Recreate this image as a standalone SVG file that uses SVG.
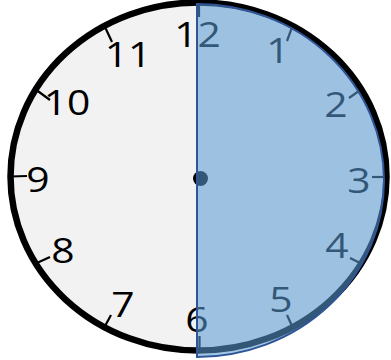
<svg xmlns="http://www.w3.org/2000/svg" width="391" height="360" viewBox="0 0 391 360">
<style>
.face{fill:#f2f2f2;stroke:#000;stroke-width:6.5}
.tick{stroke:#000;stroke-width:2.2;stroke-linecap:butt}
.num{font-family:"Open Sans","Liberation Sans",sans-serif;font-size:34px;fill:#000;text-anchor:middle}
.half{fill:#5b9bd5;fill-opacity:0.56;stroke:#2f5597;stroke-width:2}
</style>
<rect width="391" height="360" fill="#fff"/>
<g id="clock-face">
<ellipse class="face" cx="198.5" cy="176.5" rx="188" ry="174"/>
</g>
<g id="ticks">
<line class="tick" x1="199" y1="3" x2="199" y2="17"/>
<line class="tick" x1="292.5" y1="26" x2="287" y2="41"/>
<line class="tick" x1="361" y1="89.5" x2="349" y2="98"/>
<line class="tick" x1="386.5" y1="177" x2="372" y2="177"/>
<line class="tick" x1="361" y1="263.5" x2="350" y2="258"/>
<line class="tick" x1="292.5" y1="327" x2="287" y2="315"/>
<line class="tick" x1="199.5" y1="350" x2="199.5" y2="336"/>
<line class="tick" x1="104.5" y1="327" x2="111" y2="315"/>
<line class="tick" x1="35.7" y1="263.5" x2="50" y2="257"/>
<line class="tick" x1="10.5" y1="176.5" x2="27" y2="176"/>
<line class="tick" x1="35.7" y1="89.5" x2="50" y2="100"/>
<line class="tick" x1="104.5" y1="26" x2="112" y2="42"/>
</g>
<g id="numbers">
<text class="num" transform="translate(197.5,47) scale(1.2,1)">12</text>
<text class="num" transform="translate(278,63) scale(1.2,1)">1</text>
<text class="num" transform="translate(336,117) scale(1.2,1)">2</text>
<text class="num" transform="translate(359,193) scale(1.2,1)">3</text>
<text class="num" transform="translate(337,258) scale(1.2,1)">4</text>
<text class="num" transform="translate(281,312) scale(1.2,1)">5</text>
<text class="num" transform="translate(197,332) scale(1.2,1)">6</text>
<text class="num" transform="translate(123,317) scale(1.2,1)">7</text>
<text class="num" transform="translate(63,263) scale(1.2,1)">8</text>
<text class="num" transform="translate(38,192) scale(1.2,1)">9</text>
<text class="num" transform="translate(67,115) scale(1.2,1)">10</text>
<text class="num" transform="translate(128,67) scale(1.2,1)">11</text>
</g>
<g id="center-dot">
<circle cx="200.5" cy="178.5" r="7.5" fill="#000"/>
</g>
<g id="shaded-half">
<path class="half" d="M197,4 A187,176.5 0 0 1 197,357 Z"/>
</g>
</svg>
